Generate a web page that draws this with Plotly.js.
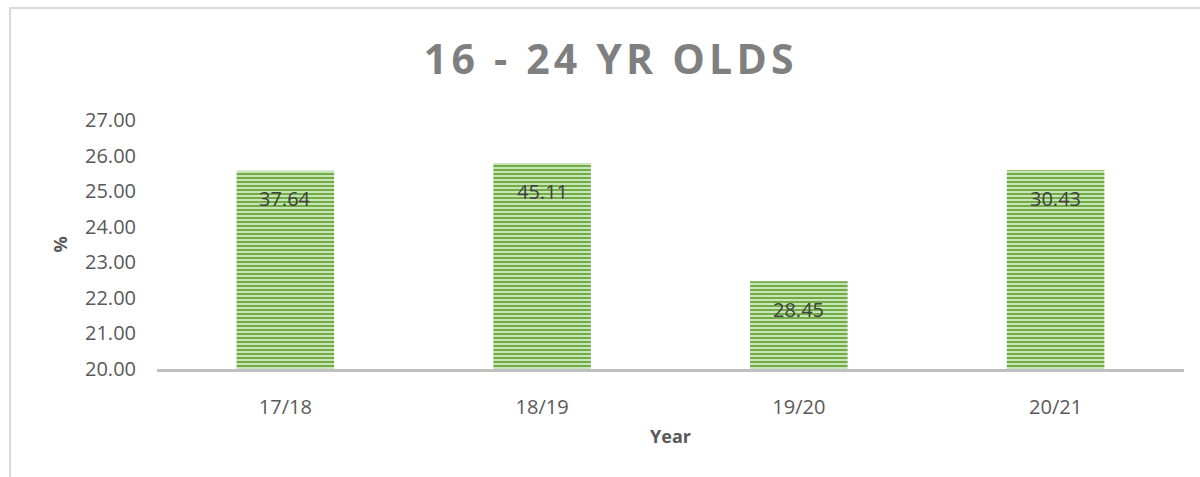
<!DOCTYPE html>
<html>
<head>
<meta charset="utf-8">
<script src="https://cdn.plot.ly/plotly-3.0.1.min.js"></script>
<style>
  html, body { margin: 0; padding: 0; background: #fff; }
  #wrap { position: relative; width: 1200px; height: 477px; }
  #chart { width: 1200px; height: 477px; }
  #frame { position: absolute; left: 9px; top: 7px; width: 1191px; height: 470px;
           border-top: 2px solid #d9d9d9; border-left: 2px solid #d9d9d9; box-sizing: border-box;
           pointer-events: none; }
  .gtitle { letter-spacing: 4.2px; }
</style>
</head>
<body>
<div id="wrap">
  <div id="chart"></div>
  <div id="frame"></div>
</div>
<script>
const categories = ["17/18", "18/19", "19/20", "20/21"];
const barHeights = [25.57, 25.79, 22.47, 25.59];
const labels = ["37.64", "45.11", "28.45", "30.43"];
const yTicks = [20, 21, 22, 23, 24, 25, 26, 27];
const yTickText = ["20.00", "21.00", "22.00", "23.00", "24.00", "25.00", "26.00", "27.00"];

const trace = {
  type: "bar",
  x: categories,
  y: barHeights.map(v => v - 20),
  base: 20,
  marker: {
    color: "#b4d89c",
    line: { width: 0 },
    pattern: { shape: "-", fgcolor: "#70ad47", bgcolor: "#c9e4b6", size: 4, solidity: 0.5 }
  },
  hoverinfo: "none"
};

const annotations = categories.map((c, i) => ({
  x: c, y: barHeights[i], xref: "x", yref: "y",
  text: labels[i], showarrow: false, yshift: -28,
  font: { family: "Open Sans", size: 20, color: "#404040" }
}));

const layout = {
  width: 1200, height: 477,
  margin: { l: 157, r: 16, t: 120, b: 108 },
  paper_bgcolor: "#ffffff", plot_bgcolor: "#ffffff",
  showlegend: false,
  bargap: 0.62,
  title: {
    text: "16 - 24 YR OLDS",
    x: 0.509, xanchor: "center", y: 0.875, yanchor: "middle", yref: "container",
    font: { family: "Open Sans", size: 41, color: "#7f7f7f", weight: 700 }
  },
  xaxis: {
    type: "category",
    showline: true, linecolor: "#bfbfbf", linewidth: 3,
    showgrid: false, zeroline: false,
    ticks: "", ticklabelstandoff: 18,
    tickfont: { family: "Open Sans", size: 20, color: "#595959" },
    title: { text: "Year", standoff: 12, font: { family: "Open Sans", size: 18, color: "#595959", weight: 700 } }
  },
  yaxis: {
    range: [20, 27],
    tickvals: yTicks, ticktext: yTickText,
    showline: false, showgrid: false, zeroline: false,
    ticks: "", ticklabelstandoff: 20,
    tickfont: { family: "Open Sans", size: 20, color: "#595959" },
    title: { text: "%", standoff: 12, font: { family: "Open Sans", size: 18, color: "#595959", weight: 700 } }
  },
  annotations: annotations
};

Plotly.newPlot("chart", [trace], layout, { displayModeBar: false, staticPlot: true });
</script>
</body>
</html>
